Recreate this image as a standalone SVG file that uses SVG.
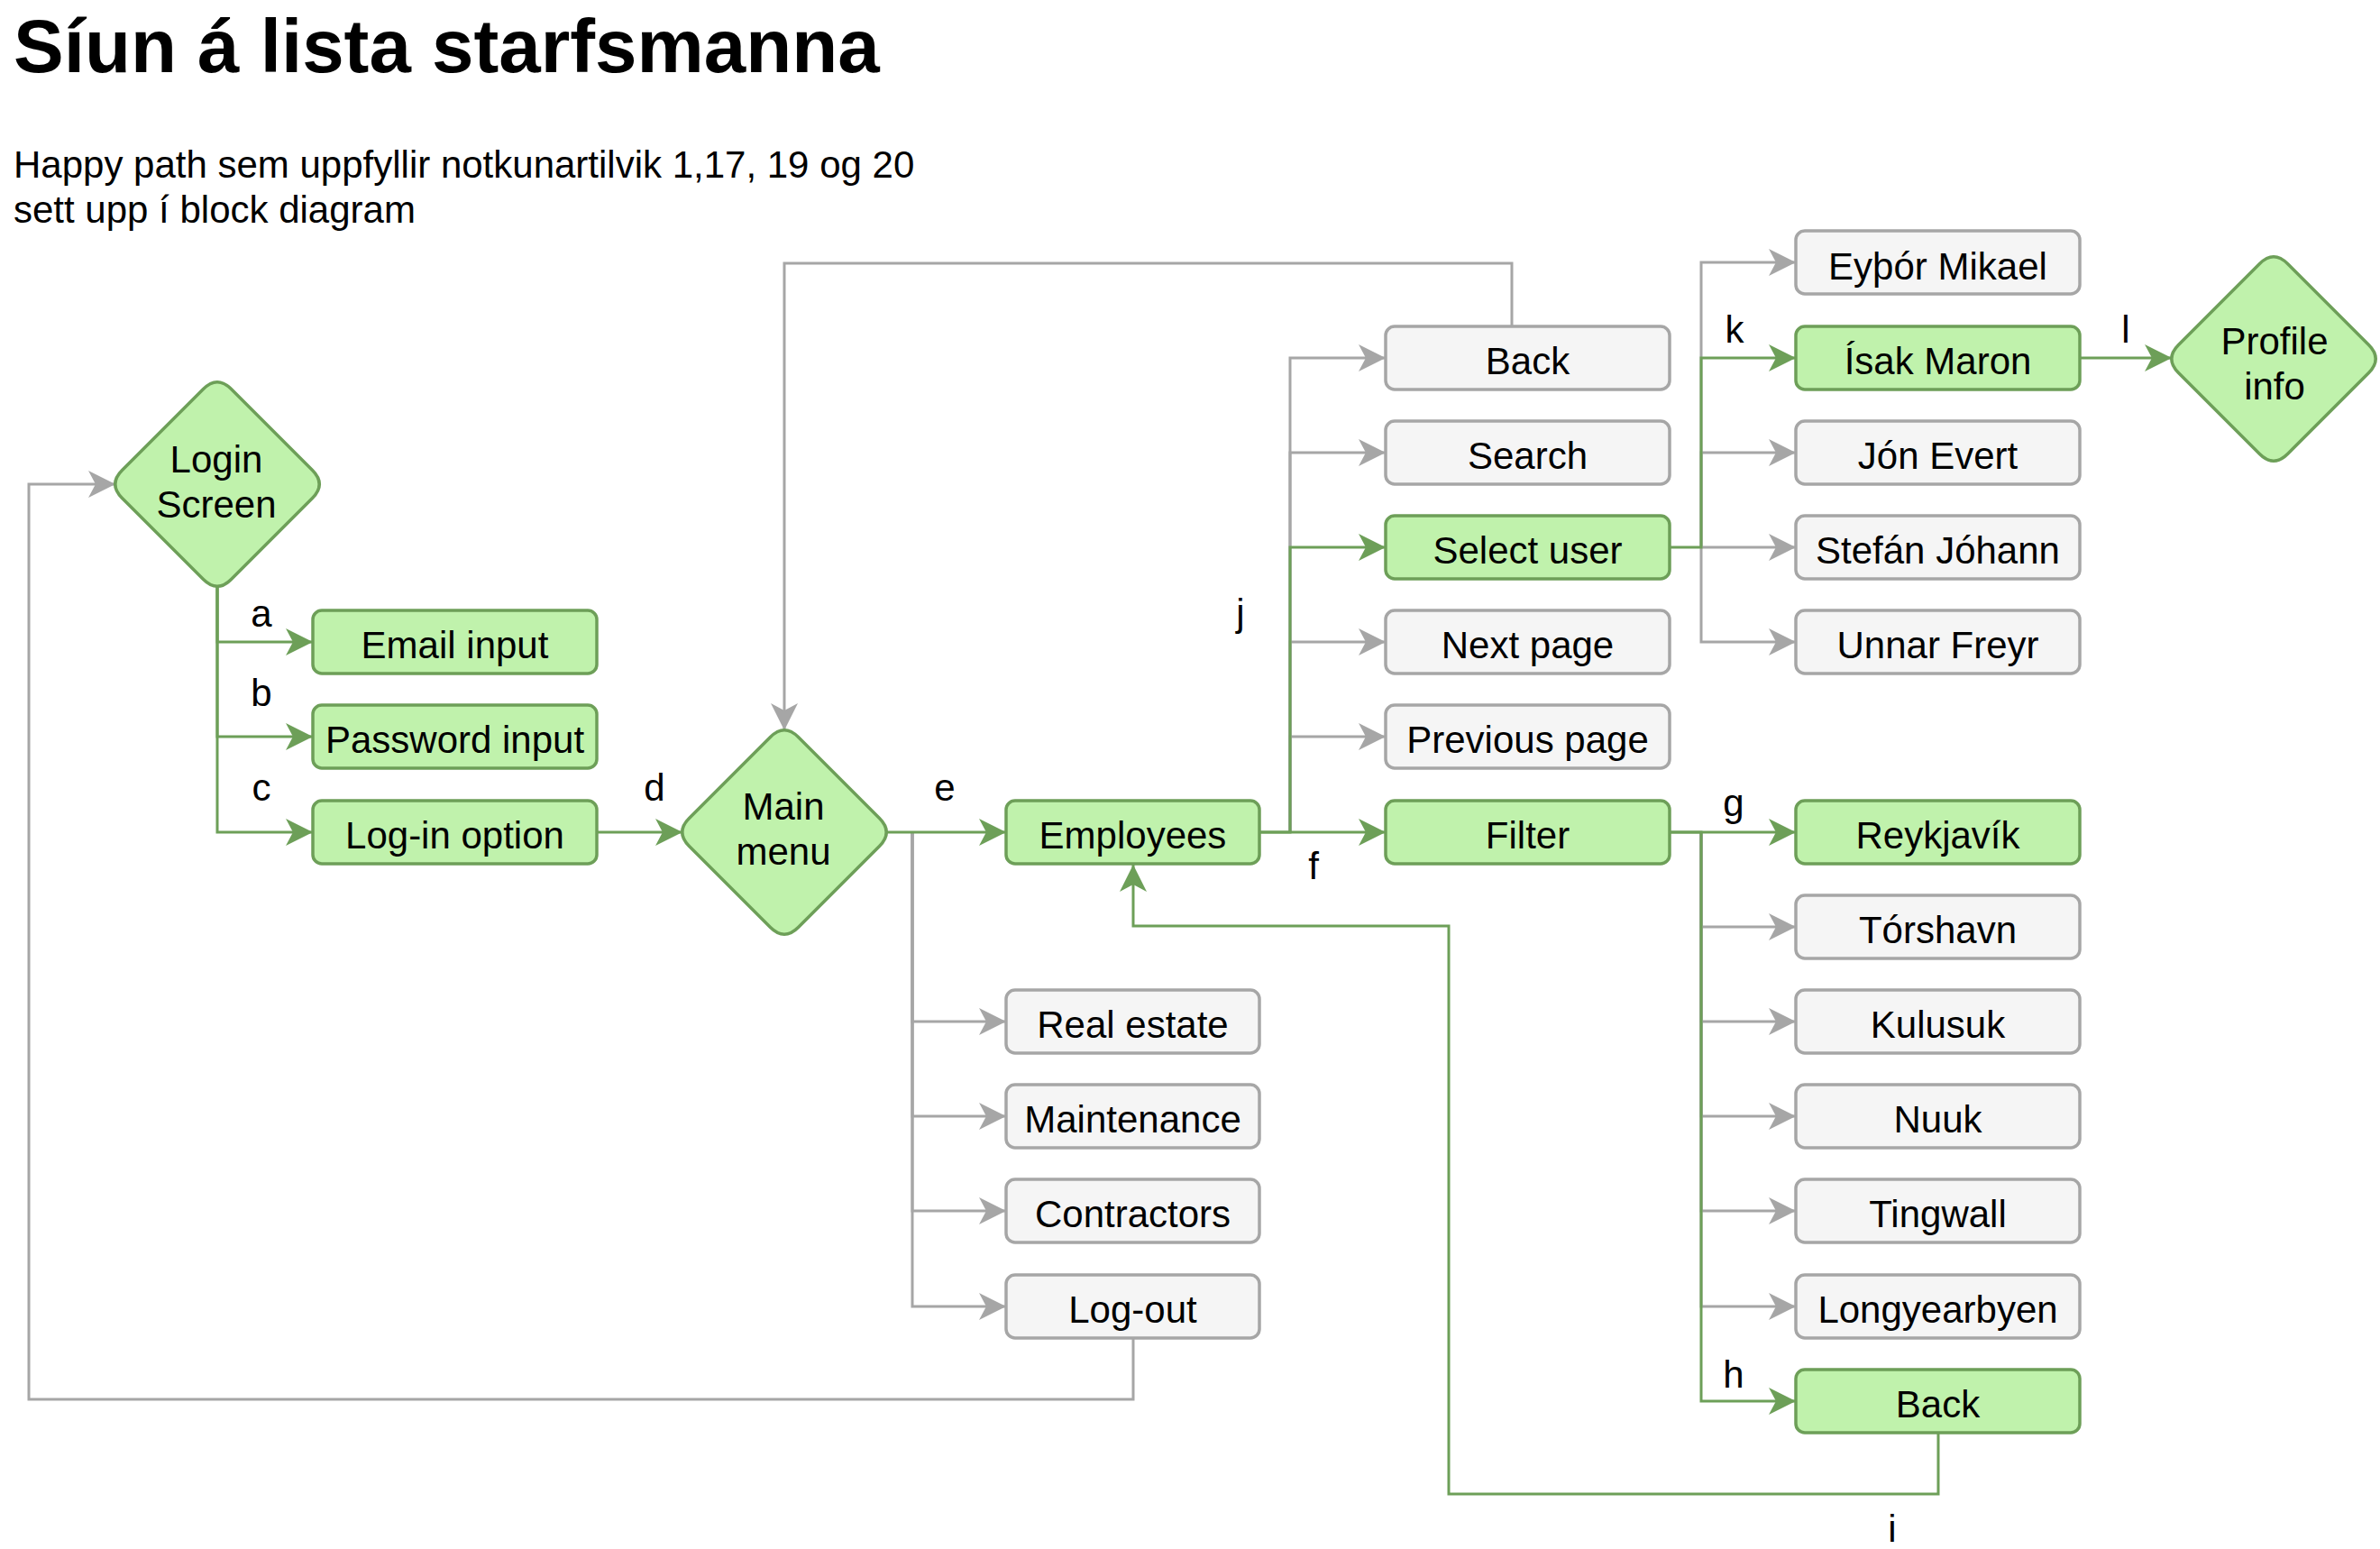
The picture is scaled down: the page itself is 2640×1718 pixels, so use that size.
<svg xmlns="http://www.w3.org/2000/svg" width="2640" height="1718" viewBox="0 0 2640 1718">
<defs>
<style>
.g rect,.g path{fill:#c0f2ac;stroke:#6d9f58;stroke-width:3.5}
.w rect{fill:#f5f5f5;stroke:#a6a6a6;stroke-width:3.5}
text{font-family:"Liberation Sans",Arial,Helvetica,sans-serif;font-size:42px;fill:#000}
.t{text-anchor:middle}
.cg{fill:none;stroke:#6d9f58;stroke-width:3}
.cw{fill:none;stroke:#a6a6a6;stroke-width:3}
</style>
<marker id="ag" markerUnits="userSpaceOnUse" markerWidth="32" markerHeight="32" viewBox="0 0 32 32" refX="30" refY="16" orient="auto"><path d="M0,1 L30,16 L0,31 L8,16 Z" fill="#6d9f58"/></marker>
<marker id="aw" markerUnits="userSpaceOnUse" markerWidth="32" markerHeight="32" viewBox="0 0 32 32" refX="30" refY="16" orient="auto"><path d="M0,1 L30,16 L0,31 L8,16 Z" fill="#a6a6a6"/></marker>
</defs>
<rect width="2640" height="1718" fill="#fff"/>
<text x="15" y="80" style="font-size:83.5px;font-weight:bold">Síun á lista starfsmanna</text>
<text x="15" y="197">Happy path sem uppfyllir notkunartilvik 1,17, 19 og 20</text>
<text x="15" y="247">sett upp í block diagram</text>

<g id="connectors">
<path class="cw" d="M1012,923 V1133 H1116" marker-end="url(#aw)"/>
<path class="cw" d="M1012,923 V1238 H1116" marker-end="url(#aw)"/>
<path class="cw" d="M1012,923 V1343 H1116" marker-end="url(#aw)"/>
<path class="cw" d="M1012,923 V1449 H1116" marker-end="url(#aw)"/>
<path class="cw" d="M1257,1484 V1552 H32 V537 H128" marker-end="url(#aw)"/>
<path class="cw" d="M1677,362 V292 H870 V810" marker-end="url(#aw)"/>
<path class="cw" d="M1431,923 V397 H1537" marker-end="url(#aw)"/>
<path class="cw" d="M1431,923 V502 H1537" marker-end="url(#aw)"/>
<path class="cw" d="M1431,923 V712 H1537" marker-end="url(#aw)"/>
<path class="cw" d="M1431,923 V817 H1537" marker-end="url(#aw)"/>
<path class="cw" d="M1887,607 V291 H1992" marker-end="url(#aw)"/>
<path class="cw" d="M1887,607 V502 H1992" marker-end="url(#aw)"/>
<path class="cw" d="M1887,607 H1992" marker-end="url(#aw)"/>
<path class="cw" d="M1887,607 V712 H1992" marker-end="url(#aw)"/>
<path class="cw" d="M1887,923 V1028 H1992" marker-end="url(#aw)"/>
<path class="cw" d="M1887,923 V1133 H1992" marker-end="url(#aw)"/>
<path class="cw" d="M1887,923 V1238 H1992" marker-end="url(#aw)"/>
<path class="cw" d="M1887,923 V1343 H1992" marker-end="url(#aw)"/>
<path class="cw" d="M1887,923 V1449 H1992" marker-end="url(#aw)"/>
<path class="cg" d="M241,650 V712 H347" marker-end="url(#ag)"/>
<path class="cg" d="M241,650 V817 H347" marker-end="url(#ag)"/>
<path class="cg" d="M241,650 V923 H347" marker-end="url(#ag)"/>
<path class="cg" d="M662,923 H757" marker-end="url(#ag)"/>
<path class="cg" d="M983,923 H1116" marker-end="url(#ag)"/>
<path class="cg" d="M1397,923 H1537" marker-end="url(#ag)"/>
<path class="cg" d="M1397,923 H1431 V607 H1537" marker-end="url(#ag)"/>
<path class="cg" d="M1852,607 H1887 V397 H1992" marker-end="url(#ag)"/>
<path class="cg" d="M2307,397 H2409" marker-end="url(#ag)"/>
<path class="cg" d="M1852,923 H1992" marker-end="url(#ag)"/>
<path class="cg" d="M1852,923 H1887 V1554 H1992" marker-end="url(#ag)"/>
<path class="cg" d="M2150,1589 V1657 H1607 V1027 H1257 V959" marker-end="url(#ag)"/>
<text class="t" x="290" y="695">a</text>
<text class="t" x="290" y="783">b</text>
<text class="t" x="290" y="888">c</text>
<text class="t" x="726" y="888">d</text>
<text class="t" x="1048" y="888">e</text>
<text class="t" x="1457" y="975">f</text>
<text class="t" x="1923" y="905">g</text>
<text class="t" x="1923" y="1539">h</text>
<text class="t" x="2099" y="1710">i</text>
<text class="t" x="1376" y="694">j</text>
<text class="t" x="1924" y="380">k</text>
<text class="t" x="2358" y="380">l</text>
</g>

<g id="login-screen" class="g"><path d="M225.5,431.5 Q241,416 256.5,431.5 L346.5,521.5 Q362,537 346.5,552.5 L256.5,642.5 Q241,658 225.5,642.5 L135.5,552.5 Q120,537 135.5,521.5 Z"/><text class="t" x="240" y="524">Login</text><text class="t" x="240" y="574">Screen</text></g>
<g id="main-menu" class="g"><path d="M854.5,817.5 Q870,802 885.5,817.5 L975.5,907.5 Q991,923 975.5,938.5 L885.5,1028.5 Q870,1044 854.5,1028.5 L764.5,938.5 Q749,923 764.5,907.5 Z"/><text class="t" x="869" y="909">Main</text><text class="t" x="869" y="959">menu</text></g>
<g id="profile-info" class="g"><path d="M2506.5,292.5 Q2522,277 2537.5,292.5 L2627.5,382.5 Q2643,398 2627.5,413.5 L2537.5,503.5 Q2522,519 2506.5,503.5 L2416.5,413.5 Q2401,398 2416.5,382.5 Z"/><text class="t" x="2523" y="393">Profile</text><text class="t" x="2523" y="443">info</text></g>

<g id="email-input" class="g"><rect x="347" y="677" width="315" height="70" rx="10"/><text class="t" x="504.5" y="730">Email input</text></g>
<g id="password-input" class="g"><rect x="347" y="782" width="315" height="70" rx="10"/><text class="t" x="504.5" y="835">Password input</text></g>
<g id="login-option" class="g"><rect x="347" y="888" width="315" height="70" rx="10"/><text class="t" x="504.5" y="941">Log-in option</text></g>

<g id="employees" class="g"><rect x="1116" y="888" width="281" height="70" rx="10"/><text class="t" x="1256.5" y="941">Employees</text></g>
<g id="real-estate" class="w"><rect x="1116" y="1098" width="281" height="70" rx="10"/><text class="t" x="1256.5" y="1151">Real estate</text></g>
<g id="maintenance" class="w"><rect x="1116" y="1203" width="281" height="70" rx="10"/><text class="t" x="1256.5" y="1256">Maintenance</text></g>
<g id="contractors" class="w"><rect x="1116" y="1308" width="281" height="70" rx="10"/><text class="t" x="1256.5" y="1361">Contractors</text></g>
<g id="log-out" class="w"><rect x="1116" y="1414" width="281" height="70" rx="10"/><text class="t" x="1256.5" y="1467">Log-out</text></g>

<g id="back-1" class="w"><rect x="1537" y="362" width="315" height="70" rx="10"/><text class="t" x="1694.5" y="415">Back</text></g>
<g id="search" class="w"><rect x="1537" y="467" width="315" height="70" rx="10"/><text class="t" x="1694.5" y="520">Search</text></g>
<g id="select-user" class="g"><rect x="1537" y="572" width="315" height="70" rx="10"/><text class="t" x="1694.5" y="625">Select user</text></g>
<g id="next-page" class="w"><rect x="1537" y="677" width="315" height="70" rx="10"/><text class="t" x="1694.5" y="730">Next page</text></g>
<g id="previous-page" class="w"><rect x="1537" y="782" width="315" height="70" rx="10"/><text class="t" x="1694.5" y="835">Previous page</text></g>
<g id="filter" class="g"><rect x="1537" y="888" width="315" height="70" rx="10"/><text class="t" x="1694.5" y="941">Filter</text></g>

<g id="eythor" class="w"><rect x="1992" y="256" width="315" height="70" rx="10"/><text class="t" x="2149.5" y="310">Eyþór Mikael</text></g>
<g id="isak" class="g"><rect x="1992" y="362" width="315" height="70" rx="10"/><text class="t" x="2149.5" y="415">Ísak Maron</text></g>
<g id="jon" class="w"><rect x="1992" y="467" width="315" height="70" rx="10"/><text class="t" x="2149.5" y="520">Jón Evert</text></g>
<g id="stefan" class="w"><rect x="1992" y="572" width="315" height="70" rx="10"/><text class="t" x="2149.5" y="625">Stefán Jóhann</text></g>
<g id="unnar" class="w"><rect x="1992" y="677" width="315" height="70" rx="10"/><text class="t" x="2149.5" y="730">Unnar Freyr</text></g>
<g id="reykjavik" class="g"><rect x="1992" y="888" width="315" height="70" rx="10"/><text class="t" x="2149.5" y="941">Reykjavík</text></g>
<g id="torshavn" class="w"><rect x="1992" y="993" width="315" height="70" rx="10"/><text class="t" x="2149.5" y="1046">Tórshavn</text></g>
<g id="kulusuk" class="w"><rect x="1992" y="1098" width="315" height="70" rx="10"/><text class="t" x="2149.5" y="1151">Kulusuk</text></g>
<g id="nuuk" class="w"><rect x="1992" y="1203" width="315" height="70" rx="10"/><text class="t" x="2149.5" y="1256">Nuuk</text></g>
<g id="tingwall" class="w"><rect x="1992" y="1308" width="315" height="70" rx="10"/><text class="t" x="2149.5" y="1361">Tingwall</text></g>
<g id="longyearbyen" class="w"><rect x="1992" y="1414" width="315" height="70" rx="10"/><text class="t" x="2149.5" y="1467">Longyearbyen</text></g>
<g id="back-2" class="g"><rect x="1992" y="1519" width="315" height="70" rx="10"/><text class="t" x="2149.5" y="1572">Back</text></g>
</svg>
